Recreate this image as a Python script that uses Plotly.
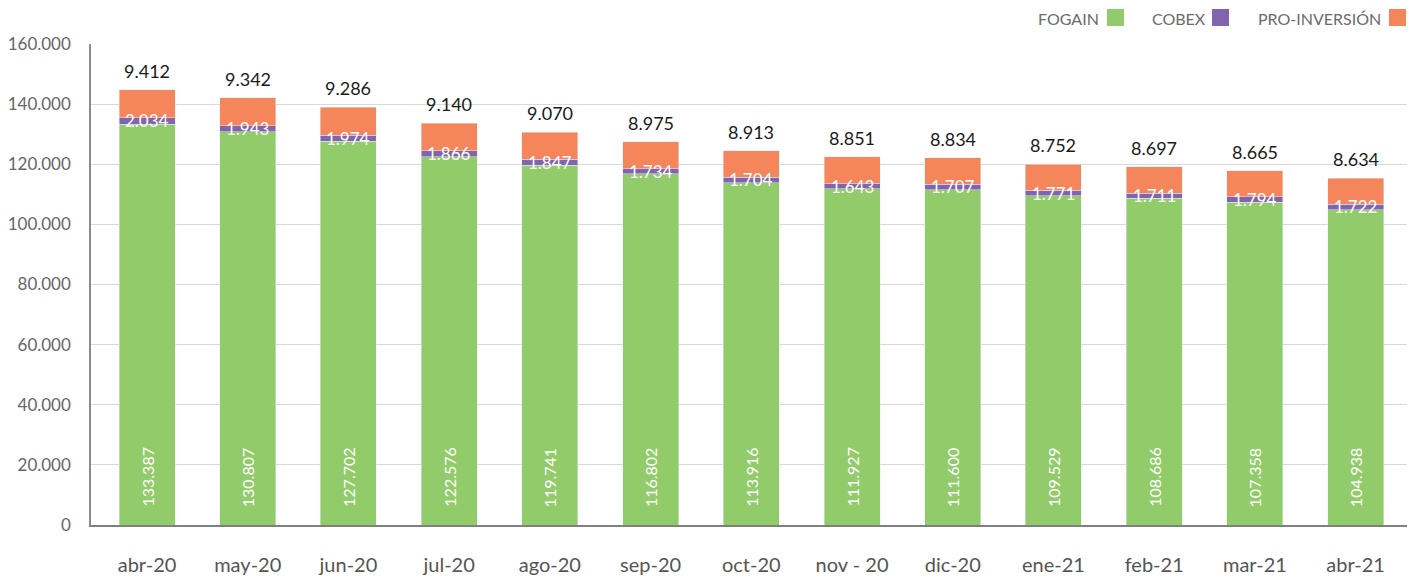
import plotly.graph_objects as go

months = ["abr-20", "may-20", "jun-20", "jul-20", "ago-20", "sep-20", "oct-20",
          "nov - 20", "dic-20", "ene-21", "feb-21", "mar-21", "abr-21"]
fogain = [133387, 130807, 127702, 122576, 119741, 116802, 113916, 111927,
          111600, 109529, 108686, 107358, 104938]
cobex = [2034, 1943, 1974, 1866, 1847, 1734, 1704, 1643, 1707, 1771, 1711, 1794, 1722]
proinv = [9412, 9342, 9286, 9140, 9070, 8975, 8913, 8851, 8834, 8752, 8697, 8665, 8634]

C_GREEN = "#92CB6A"
C_PURPLE = "#8064AE"
C_ORANGE = "#F5855A"
FONT = "Lato"


def fmt(v):
    return f"{v:,}".replace(",", ".")


fig = go.Figure()
fig.add_bar(x=months, y=fogain, name="FOGAIN", marker_color=C_GREEN, width=0.556)
fig.add_bar(x=months, y=cobex, name="COBEX", marker_color=C_PURPLE, width=0.556)
fig.add_bar(x=months, y=proinv, name="PRO-INVERSIÓN", marker_color=C_ORANGE, width=0.556)

ann = []
for m, g, c, p in zip(months, fogain, cobex, proinv):
    ann.append(dict(x=m, y=0, xref="x", yref="y", text=fmt(g), textangle=-90,
                    showarrow=False, yanchor="bottom", yshift=16,
                    font=dict(family=FONT, size=16, color="white")))
    ann.append(dict(x=m, y=g + c / 2, xref="x", yref="y", text=fmt(c),
                    showarrow=False, yanchor="middle",
                    font=dict(family=FONT, size=17, color="white")))
    ann.append(dict(x=m, y=g + c + p, xref="x", yref="y", text=fmt(p),
                    showarrow=False, yanchor="bottom", yshift=6,
                    font=dict(family=FONT, size=18, color="#1a1a1a")))

# page body adds an 8px offset; figure is sized/placed to compensate
OFF = 8
FW, FH = 1417 - OFF, 579 - OFF
L, R, T, B = 91 - OFF, 10, 44 - OFF, 54
W = FW - L - R
H = FH - T - B
Y0 = 525 - OFF  # pixel row of the x axis within the figure

legend_items = [("FOGAIN", C_GREEN, 1101, 1107), ("COBEX", C_PURPLE, 1208, 1212),
                ("PRO-INVERSIÓN", C_ORANGE, 1383, 1389)]
shapes = []
for name, col, tx, sx in legend_items:
    ann.append(dict(x=(tx - OFF - L) / W, y=(Y0 - (18 - OFF)) / H, xref="paper", yref="paper",
                    text=name, showarrow=False, xanchor="right", yanchor="middle",
                    font=dict(family=FONT, size=16, color="#6b6b6b")))
    shapes.append(dict(type="rect", xref="paper", yref="paper",
                       x0=(sx - OFF - L) / W, x1=(sx + 17 - OFF - L) / W,
                       y0=(Y0 - (9 - OFF)) / H, y1=(Y0 - (26 - OFF)) / H,
                       fillcolor=col, line=dict(width=0)))

fig.update_layout(
    barmode="stack",
    width=FW, height=FH,
    margin=dict(l=L, r=R, t=T, b=B, autoexpand=False),
    plot_bgcolor="white", paper_bgcolor="white",
    separators=",.",
    showlegend=False,
    annotations=ann,
    shapes=shapes,
    font=dict(family=FONT, color="#595959"),
)
fig.update_yaxes(range=[0, 160000], dtick=20000, tickformat=",d",
                 showgrid=True, gridcolor="#d9d9d9", gridwidth=1,
                 showline=True, linecolor="#8c8c8c", linewidth=1.5,
                 zeroline=False, ticks="", ticklabelstandoff=15,
                 tickfont=dict(family=FONT, size=17, color="#666666"))
fig.update_xaxes(range=[-0.556, 12.51], showline=True, linecolor="#808080", linewidth=2,
                 ticks="", ticklabelstandoff=21,
                 tickfont=dict(family=FONT, size=20, color="#555555"))

fig.write_html("out.html")
